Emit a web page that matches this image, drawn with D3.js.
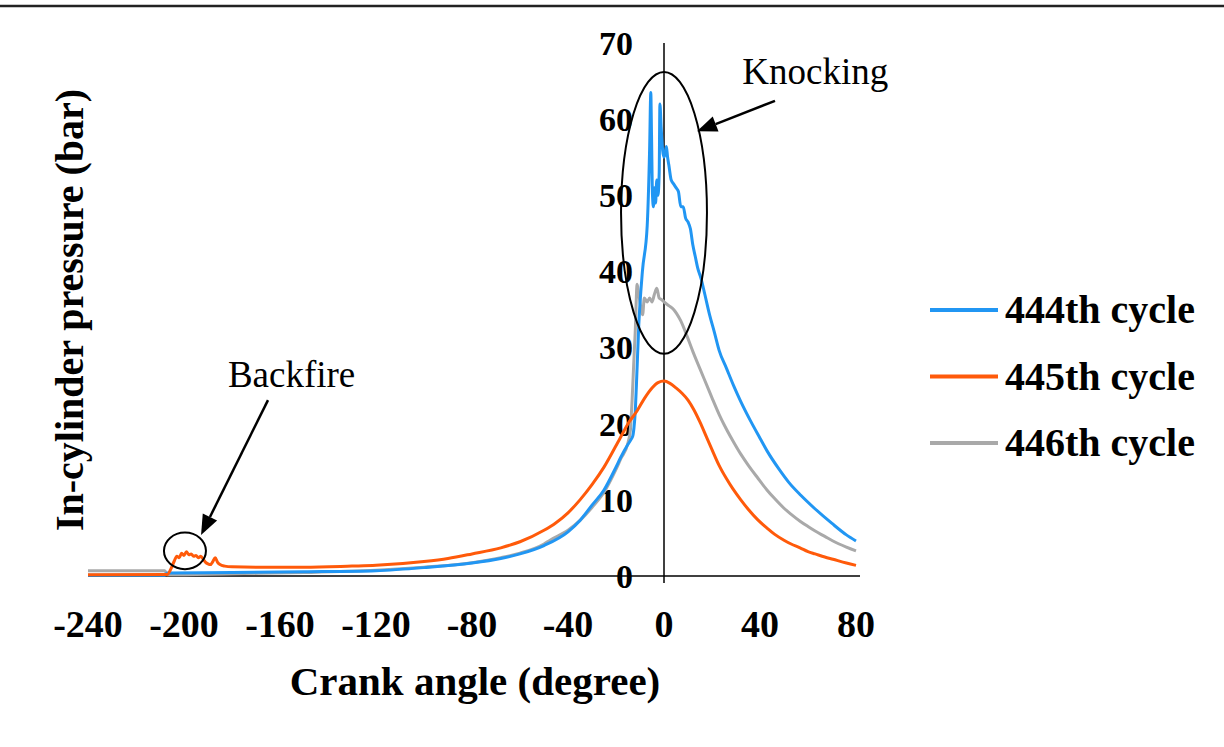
<!DOCTYPE html>
<html>
<head>
<meta charset="utf-8">
<script src="https://cdn.jsdelivr.net/npm/d3@7"></script>
<style>
  html, body { margin: 0; padding: 0; background: #fff; }
  svg { display: block; }
  text { font-family: "Liberation Serif", "Times New Roman", Times, serif; fill: #000; }
</style>
</head>
<body>
<svg id="chart" width="1224" height="747"></svg>
<script>
// ---- Data ----
const seriesNames = ["444th cycle", "445th cycle", "446th cycle"];
const seriesColors = ["#2196f3", "#ff5a0a", "#a9a9a9"];

const angle444 = [-240,-208,-207,-180,-150,-120,-100,-80,-68,-60,-50,-40,-35,-30,-25,-20,-18,-15,-14,-13,-12.5,-12,-11.5,-10.5,-9,-7,-6,-5.5,-5.2,-4.8,-4.4,-4,-3.5,-3,-2.5,-2,-1.7,-1.2,-0.6,0,0.5,1,1.5,2,3,4,5,6,7,8,9,10,11,12,13,14,15.5,17,19,21,23,26,29,32,36,40,43,48,52,57,63,70,76,80];
const pressure444 = [0.1,0.1,0.4,0.45,0.55,0.7,1.1,1.7,2.3,2.9,4.0,5.8,7.3,9.3,11.3,14.3,15.6,17.3,17.8,18.4,19.5,21.5,25,33,40,46,56,63.5,58,50,48.5,51,49,52,50,53,62,59,56,55,55.5,56.4,55,54,52,51.5,51,50.5,48.5,48.5,47,46.5,45.6,43.5,42,40.5,39,37,34.3,32,29.6,27.3,25.0,22.9,20.4,18.1,16.4,14.0,12.3,10.6,8.8,6.9,5.4,4.6];

const angle445 = [-240,-207,-205.5,-204,-203,-202,-201,-200,-199,-198,-197,-196,-195,-194,-193,-192,-191,-190,-189,-188,-187,-186,-185,-183,-180,-170,-150,-130,-120,-100,-90,-80,-68,-60,-50,-45,-40,-35,-30,-25,-18.3,-15,-11.2,-8,-5,-2.5,0,2.5,5,7.5,10,12.5,15,17.9,20,23,26,28.8,32,35,39,42.9,46,50,53,56.7,60,63,67,70.4,76,80];
const pressure445 = [0.15,0.2,0.9,2.0,2.6,2.4,3.0,2.7,3.2,2.8,2.9,2.6,2.7,2.4,2.6,2.2,1.8,1.6,1.5,1.9,2.4,1.8,1.5,1.3,1.2,1.15,1.15,1.3,1.4,1.9,2.3,2.9,3.7,4.5,6.0,7.0,8.3,10.0,12.0,14.3,18.1,20.0,21.7,23.4,24.7,25.4,25.6,25.3,24.7,24.0,23.1,21.8,20.2,18.1,16.6,14.5,12.8,11.4,10.0,8.8,7.4,6.3,5.5,4.7,4.2,3.7,3.2,2.9,2.5,2.2,1.7,1.4];

const angle446 = [-240,-208,-207,-180,-150,-120,-100,-80,-68,-60,-50,-47.5,-40,-35,-30,-25,-20,-18,-15,-14.1,-13.3,-12.6,-12,-11.2,-10.5,-9.5,-8.9,-8.2,-7,-6,-5,-4,-3,-2,-1,0,2,4,5.2,7,9.6,12,15,17.9,20,23,25,28.8,32,35,39,42.9,46,50,53,56.7,60,63,67,70.4,76,80];
const pressure446 = [0.7,0.7,0.15,0.3,0.45,0.75,1.15,1.75,2.4,3.0,4.2,4.7,6.0,7.3,9.0,11.0,14.0,15.4,17.5,19,23,28,32,38.3,37,35,34.3,36.5,36,36.5,36,37,37.8,36.5,36.3,36,35.5,35,34.5,33.5,31.5,29.5,27.2,25,23.4,21.2,19.9,17.7,16.0,14.6,12.9,11.3,10.2,8.9,8.1,7.2,6.5,5.9,5.2,4.6,3.8,3.3];

const xTicks = [-240,-200,-160,-120,-80,-40,0,40,80];
const yTicks = [0,10,20,30,40,50,60,70];

// annotations (data coordinates)
const knockEllipse = {cx: 0, cy: 47.7, rxDeg: 17.9, ryBar: 18.5};
const backfireEllipse = {cx: -199.6, cy: 3.3, rxDeg: 8.75, ryBar: 2.4};
const knockArrow = {from: [46.25, 62.4], to: [13.75, 58.4]};
const backfireArrow = {from: [-165, 23.1], to: [-192.9, 5.4]};
const knockLabel = {text: "Knocking", at: [32.6, 64.6]};
const backfireLabel = {text: "Backfire", at: [-181.7, 24.8]};

// ---- Chart ----
const svg = d3.select("#chart");
const x = d3.scaleLinear().domain([-240, 80]).range([88, 856]);
const y = d3.scaleLinear().domain([0, 70]).range([576, 43]);
const serif = "Liberation Serif, Times New Roman, serif";

// top border line
svg.append("line").attr("x1", 0).attr("x2", 1224).attr("y1", 6).attr("y2", 6)
  .attr("stroke", "#222").attr("stroke-width", 2.5);

// x axis line
svg.append("line").attr("x1", x(-240)).attr("x2", x(80) + 4).attr("y1", y(0)).attr("y2", y(0))
  .attr("stroke", "#000").attr("stroke-width", 1.5);
// y axis line at x = 0
svg.append("line").attr("x1", x(0)).attr("x2", x(0)).attr("y1", y(70)).attr("y2", y(0) + 7)
  .attr("stroke", "#000").attr("stroke-width", 1.5);

// x tick labels
svg.append("g").selectAll("text").data(xTicks).join("text")
  .attr("x", d => x(d)).attr("y", 637).attr("font-family", serif)
  .attr("text-anchor", "middle").attr("font-weight", "bold").attr("font-size", 38)
  .text(d => d);

// y tick labels
svg.append("g").selectAll("text").data(yTicks).join("text")
  .attr("x", x(0) - 31).attr("y", d => y(d)).attr("dy", "0.35em").attr("font-family", serif)
  .attr("text-anchor", "end").attr("font-weight", "bold").attr("font-size", 34)
  .text(d => d);

// axis titles
svg.append("text").attr("x", 475).attr("y", 695).attr("text-anchor", "middle").attr("font-family", serif)
  .attr("font-weight", "bold").attr("font-size", 41).text("Crank angle (degree)");
svg.append("text").attr("transform", "translate(83,310) rotate(-90)").attr("text-anchor", "middle")
  .attr("font-family", serif)
  .attr("font-weight", "bold").attr("font-size", 40).text("In-cylinder pressure (bar)");

// lines
const line = d3.line().x(d => x(d[0])).y(d => y(d[1])).curve(d3.curveMonotoneX);
const series = [
  {name: seriesNames[0], color: seriesColors[0], data: d3.zip(angle444, pressure444)},
  {name: seriesNames[1], color: seriesColors[1], data: d3.zip(angle445, pressure445)},
  {name: seriesNames[2], color: seriesColors[2], data: d3.zip(angle446, pressure446)}
];
const drawOrder = [2, 0, 1];
svg.append("g").selectAll("path").data(drawOrder.map(i => series[i])).join("path")
  .attr("d", d => line(d.data)).attr("fill", "none")
  .attr("stroke", d => d.color).attr("stroke-width", 3).attr("stroke-linejoin", "round");

// legend
const lg = svg.append("g").selectAll("g").data(series).join("g")
  .attr("transform", (d, i) => `translate(930,${310 + i * 66.5})`);
lg.append("line").attr("x1", 0).attr("x2", 68).attr("stroke", d => d.color).attr("stroke-width", 4);
lg.append("text").attr("x", 75).attr("dy", "0.33em").attr("font-family", serif)
  .attr("font-weight", "bold").attr("font-size", 40)
  .text(d => d.name);

// annotations
function ell(e) {
  svg.append("ellipse")
    .attr("cx", x(e.cx)).attr("cy", y(e.cy))
    .attr("rx", x(e.rxDeg) - x(0)).attr("ry", y(0) - y(e.ryBar))
    .attr("fill", "none").attr("stroke", "#000").attr("stroke-width", 2);
}
ell(knockEllipse);
ell(backfireEllipse);

function arrow(a) {
  const x1 = x(a.from[0]), y1 = y(a.from[1]), x2 = x(a.to[0]), y2 = y(a.to[1]);
  const ang = Math.atan2(y2 - y1, x2 - x1);
  const L = 20, W = 8;
  const bx = x2 - L * Math.cos(ang), by = y2 - L * Math.sin(ang);
  svg.append("line").attr("x1", x1).attr("y1", y1).attr("x2", bx).attr("y2", by)
    .attr("stroke", "#000").attr("stroke-width", 2.5);
  const px = -Math.sin(ang) * W, py = Math.cos(ang) * W;
  svg.append("path")
    .attr("d", `M${x2},${y2}L${bx + px},${by + py}L${bx - px},${by - py}Z`)
    .attr("fill", "#000");
}
arrow(knockArrow);
arrow(backfireArrow);

svg.append("text").attr("x", x(knockLabel.at[0])).attr("y", y(knockLabel.at[1])).attr("font-family", serif)
  .attr("font-size", 37).text(knockLabel.text);
svg.append("text").attr("x", x(backfireLabel.at[0])).attr("y", y(backfireLabel.at[1])).attr("font-family", serif)
  .attr("font-size", 37).text(backfireLabel.text);
</script>
</body>
</html>
